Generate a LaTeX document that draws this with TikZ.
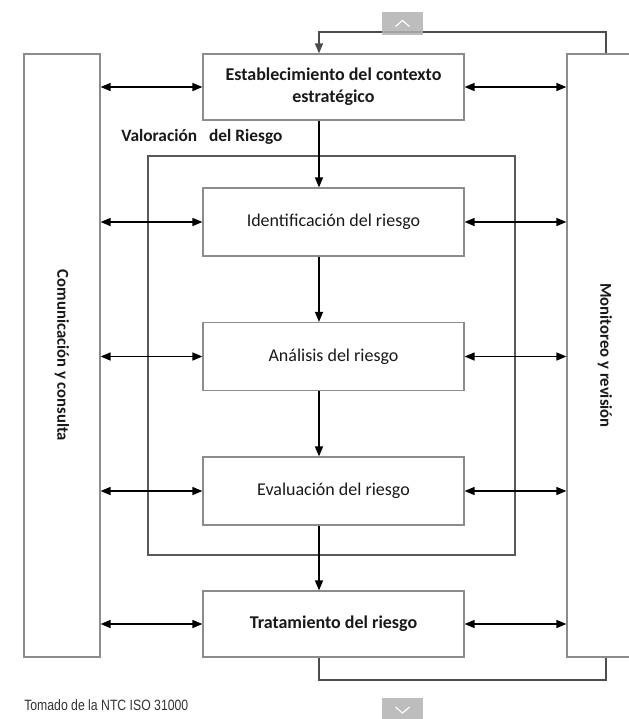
\documentclass[tikz,border=0pt]{standalone}
\usepackage{fontspec}
\setmainfont{Carlito}
\newfontfamily\notafont[FakeStretch=0.82]{Liberation Sans}
\usetikzlibrary{arrows.meta}

\begin{document}
\begin{tikzpicture}[x=0.75pt,y=-0.75pt,
  caja/.style={draw=black!45,line width=0.9pt,fill=white,inner sep=0pt,
    minimum width=195.75pt,minimum height=51pt,align=center,text=black!90,
    font=\fontsize{13.5}{16.5}\selectfont},
  lateral/.style={draw=black!45,line width=0.9pt,fill=white,inner sep=0pt,
    minimum width=57pt,minimum height=452.25pt},
  rotulo/.style={rotate=-90,inner sep=0pt,text=black!90,
    font=\bfseries\fontsize{12.5}{15}\selectfont},
  punta/.style={-{Triangle[length=7.5pt,width=6pt]}},
  flecha/.style={line width=1.1pt,punta},
  doble/.style={line width=1.1pt,{Triangle[length=7.5pt,width=6pt]}-{Triangle[length=7.5pt,width=6pt]}},
  retorno/.style={draw=black!70,line width=1pt},
  boton/.style={fill=black!30,fill opacity=0.85,inner sep=0pt,
    minimum width=30.75pt,minimum height=17.25pt}]
\clip (0,0) rectangle (629,719);
\fill[white] (0,0) rectangle (629,719);

\coordinate (eje) at (319,0);
\coordinate (ret) at (606,0);
\coordinate (sup) at (0,32);
\coordinate (inf) at (0,680);

\node[lateral] (comunic) at (62,355.5) {};
\node[rotulo] (comunictxt) at (comunic.center) {Comunicación y consulta};
\node[lateral] (monitor) at (605,355.5) {};
\node[rotulo] (monitortxt) at (monitor.center) {Monitoreo y revisión};

\node[draw=black!65,line width=0.9pt,inner sep=0pt,minimum width=275.25pt,
  minimum height=299.25pt] (marco) at (331.5,355.5) {};
\node[anchor=west,inner sep=0pt,text=black!90,font=\bfseries\fontsize{13}{15}\selectfont]
  (valoracion) at (121,137) {Valoración\hspace{9pt}del Riesgo};

\node[caja,minimum height=49.5pt,font=\bfseries\fontsize{13.5}{16.5}\selectfont]
  (contexto) at (333.5,87) {Establecimiento del contexto\\estratégico};
\node[caja] (ident) at (333.5,222) {Identificación del riesgo};
\node[caja] (analisis) at (333.5,356.5) {Análisis del riesgo};
\node[caja] (evaluacion) at (333.5,491) {Evaluación del riesgo};
\node[caja,minimum height=49.5pt,font=\bfseries\fontsize{13.5}{16.5}\selectfont]
  (tratamiento) at (333.5,624) {Tratamiento del riesgo};

\draw[flecha] (contexto.south -| eje) -- (ident.north -| eje);
\draw[flecha] (ident.south -| eje) -- (analisis.north -| eje);
\draw[flecha] (analisis.south -| eje) -- (evaluacion.north -| eje);
\draw[flecha] (evaluacion.south -| eje) -- (tratamiento.north -| eje);

\foreach \n in {contexto,ident,analisis,evaluacion,tratamiento} {
  \draw[doble] (comunic.east |- \n.west) -- (\n.west);
  \draw[doble] (\n.east) -- (monitor.west |- \n.east);
}

\draw[retorno,punta] (monitor.north -| ret) -- (ret |- sup) -- (eje |- sup)
  -- (contexto.north -| eje);
\draw[retorno] (tratamiento.south -| eje) -- (eje |- inf) -- (ret |- inf)
  -- (monitor.south -| ret);

\node[anchor=base west,inner sep=0pt,text=black!80,font=\notafont\fontsize{11.2}{13}\selectfont]
  (nota) at (24,710) {Tomado de la NTC ISO 31000};

\node[boton] (subir) at (402.5,23.5) {};
\draw[white,line width=0.9pt] ([shift={(-7,3)}]subir.center) -- ([shift={(0,-3)}]subir.center)
  -- ([shift={(7,3)}]subir.center);
\node[boton,minimum height=18pt] (bajar) at (402.5,710) {};
\draw[white,line width=0.9pt] ([shift={(-7,-3)}]bajar.center) -- ([shift={(0,3)}]bajar.center)
  -- ([shift={(7,-3)}]bajar.center);
\end{tikzpicture}
\end{document}
